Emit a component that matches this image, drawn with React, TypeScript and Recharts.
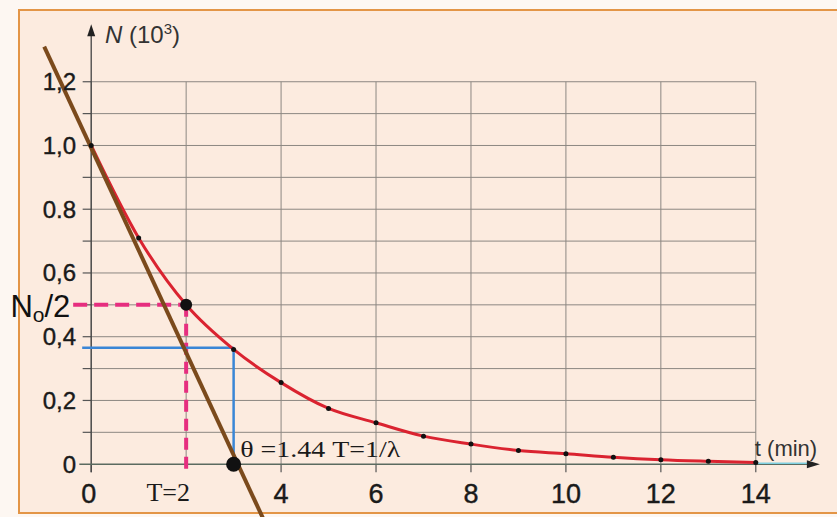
import React from 'react';
import { ComposedChart, Line, XAxis, YAxis, ReferenceLine, ReferenceDot } from 'recharts';

// decay curve
const times = [0, 1, 2, 3, 4, 5, 6, 7, 8, 9, 10, 11, 12, 13, 14];
const counts = [1.0, 0.71, 0.5, 0.36, 0.256, 0.175, 0.13, 0.088, 0.063, 0.043, 0.033, 0.022, 0.014, 0.009, 0.005];

// tangent at t = 0 (two end points as drawn)
const tangentT = [-0.99, 3.62];
const tangentN = [1.31, -0.17];

const yTicks = [0, 0.2, 0.4, 0.6, 0.8, 1.0, 1.2];
const yTickLabels = ['0', '0,2', '0,4', '0,6', '0.8', '1,0', '1,2'];
const xTicks = [0, 4, 6, 8, 10, 12, 14];
const xTickLabels = ['0', '4', '6', '8', '10', '12', '14'];
const gridX = [0, 2, 4, 6, 8, 10, 12, 14];
const gridY = [0.1, 0.2, 0.3, 0.4, 0.5, 0.6, 0.7, 0.8, 0.9, 1.0, 1.1, 1.2];

const halfLife = 2;
const halfN = 0.5;
const theta = 3;
const thetaN = 0.365;

const data = times.map((t, i) => ({ t, n: counts[i] }));

const sans = '"Liberation Sans", Arial, sans-serif';
const serif = '"Liberation Serif", "Times New Roman", serif';

const textShape = (content: React.ReactNode, opts: any) => (p: any) => (
  <text
    x={p.cx + (opts.dx || 0)}
    y={p.cy + (opts.dy || 0)}
    textAnchor={opts.anchor || 'start'}
    dominantBaseline={opts.baseline || 'auto'}
    fontFamily={opts.font || sans}
    fontSize={opts.size || 22}
    fill={opts.color || '#1a1a1a'}
    stroke={opts.heavy ? opts.color || '#1a1a1a' : 'none'}
    strokeWidth={opts.heavy ? 0.4 : 0}
    textLength={opts.length}
    lengthAdjust="spacingAndGlyphs"
  >
    {content}
  </text>
);

const arrowUp = (p: any) => (
  <polygon points={`${p.cx},${p.cy} ${p.cx - 4},${p.cy + 12} ${p.cx + 4},${p.cy + 12}`} fill="#222" />
);
const arrowRight = (p: any) => (
  <polygon points={`${p.cx},${p.cy} ${p.cx - 13},${p.cy - 4} ${p.cx - 13},${p.cy + 4}`} fill="#222" />
);

const App = () => {
  return (
    <div style={{ position: 'relative', width: 837, height: 517, background: '#fdf7f2', overflow: 'hidden' }}>
      <style>{'body{margin:0}'}</style>
      <div
        style={{
          position: 'absolute',
          left: 18,
          top: 9,
          width: 840,
          height: 501,
          border: '2px solid #e39546',
          background: '#fcebdf',
        }}
      />
      <div style={{ position: 'absolute', left: 0, top: 0 }}>
        <ComposedChart width={837} height={517} data={data} margin={{ top: 18, right: 10, bottom: 5, left: 20 }}>
          <XAxis dataKey="t" type="number" domain={[-1.5, 15.5]} allowDataOverflow hide />
          <YAxis type="number" domain={[-0.15, 1.4]} allowDataOverflow hide />

          {gridX.map((x) => (
            <ReferenceLine key={'gx' + x} segment={[{ x, y: 0 }, { x, y: 1.2 }]} stroke="#8c8782" strokeWidth={1} />
          ))}
          {gridY.map((y) => (
            <ReferenceLine key={'gy' + y} segment={[{ x: 0, y }, { x: 14, y }]} stroke="#8c8782" strokeWidth={1} />
          ))}
          {gridY.map((y) => (
            <ReferenceLine key={'my' + y} segment={[{ x: -0.18, y }, { x: 0, y }]} stroke="#555" strokeWidth={1.2} />
          ))}
          {xTicks.map((x) => (
            <ReferenceLine key={'mx' + x} segment={[{ x, y: 0 }, { x, y: -0.025 }]} stroke="#555" strokeWidth={1.2} />
          ))}

          {/* axes */}
          <ReferenceLine segment={[{ x: 0, y: -0.025 }, { x: 0, y: 1.36 }]} stroke="#444" strokeWidth={1.3} />
          <ReferenceLine segment={[{ x: -0.25, y: 0 }, { x: 15.2, y: 0 }]} stroke="#5b6b60" strokeWidth={1.6} />
          <ReferenceLine segment={[{ x: 14, y: 0.003 }, { x: 15.1, y: 0.003 }]} stroke="#7fd0e0" strokeWidth={1.5} />
          <ReferenceDot x={0} y={1.38} r={0} shape={arrowUp} ifOverflow="visible" />
          <ReferenceDot x={15.35} y={0} r={0} shape={arrowRight} ifOverflow="visible" />

          {/* half-life construction */}
          <ReferenceLine
            segment={[{ x: -0.38, y: halfN }, { x: halfLife, y: halfN }]}
            stroke="#e62e7f"
            strokeWidth={4}
            strokeDasharray="14 7"
          />
          <ReferenceLine
            segment={[{ x: halfLife, y: halfN }, { x: halfLife, y: -0.03 }]}
            stroke="#e62e7f"
            strokeWidth={4}
            strokeDasharray="12 7"
          />
          <ReferenceLine segment={[{ x: -0.19, y: thetaN }, { x: theta, y: thetaN }]} stroke="#3a86d6" strokeWidth={2.5} />
          <ReferenceLine segment={[{ x: theta, y: thetaN }, { x: theta, y: 0 }]} stroke="#3a86d6" strokeWidth={2.5} />

          <Line
            dataKey="n"
            type="monotone"
            stroke="#da2330"
            strokeWidth={3}
            dot={{ r: 2.5, fill: '#111', stroke: 'none' }}
            isAnimationActive={false}
          />

          <ReferenceLine
            segment={[{ x: tangentT[0], y: tangentN[0] }, { x: tangentT[1], y: tangentN[1] }]}
            stroke="#7b4a1c"
            strokeWidth={4}
            ifOverflow="visible"
          />

          <ReferenceDot x={halfLife} y={halfN} r={6} fill="#111" stroke="none" />
          <ReferenceDot x={theta} y={0} r={7.5} fill="#111" stroke="none" />

          {/* tick labels */}
          {yTicks.map((v, i) => (
            <ReferenceDot
              key={'yl' + v}
              x={-0.32}
              y={v}
              r={0}
              shape={textShape(yTickLabels[i], { anchor: 'end', baseline: 'central', size: 24, heavy: true })}
            />
          ))}
          {xTicks.map((v, i) => (
            <ReferenceDot
              key={'xl' + v}
              x={v === 0 ? -0.05 : v}
              y={-0.095}
              r={0}
              shape={textShape(xTickLabels[i], { anchor: 'middle', baseline: 'central', size: 27, heavy: true })}
            />
          ))}
          <ReferenceDot
            x={2.08}
            y={-0.09}
            r={0}
            shape={textShape('T=2', { anchor: 'end', baseline: 'central', size: 26, font: serif })}
          />

          {/* titles and notes */}
          <ReferenceDot
            x={0.29}
            y={1.323}
            r={0}
            shape={textShape(
              <>
                <tspan fontStyle="italic">N</tspan> (10<tspan fontSize={15} dy={-9}>3</tspan>
                <tspan dy={9}>)</tspan>
              </>,
              { size: 24, color: '#333' }
            )}
          />
          <ReferenceDot
            x={13.98}
            y={0.025}
            r={0}
            shape={textShape('t (min)', { size: 22, color: '#333' })}
          />
          <ReferenceDot
            x={3.14}
            y={0.022}
            r={0}
            shape={textShape('θ =1.44 T=1/λ', { size: 24, font: serif, length: 160 })}
          />
          <ReferenceDot
            x={-0.44}
            y={0.462}
            r={0}
            shape={textShape(
              <>
                N<tspan fontSize={21} dy={5}>o</tspan>
                <tspan dy={-5}>/2</tspan>
              </>,
              { anchor: 'end', size: 31, font: '"Liberation Sans Narrow", "Liberation Sans", sans-serif', color: '#111' }
            )}
          />
        </ComposedChart>
      </div>
    </div>
  );
};

export default App;
